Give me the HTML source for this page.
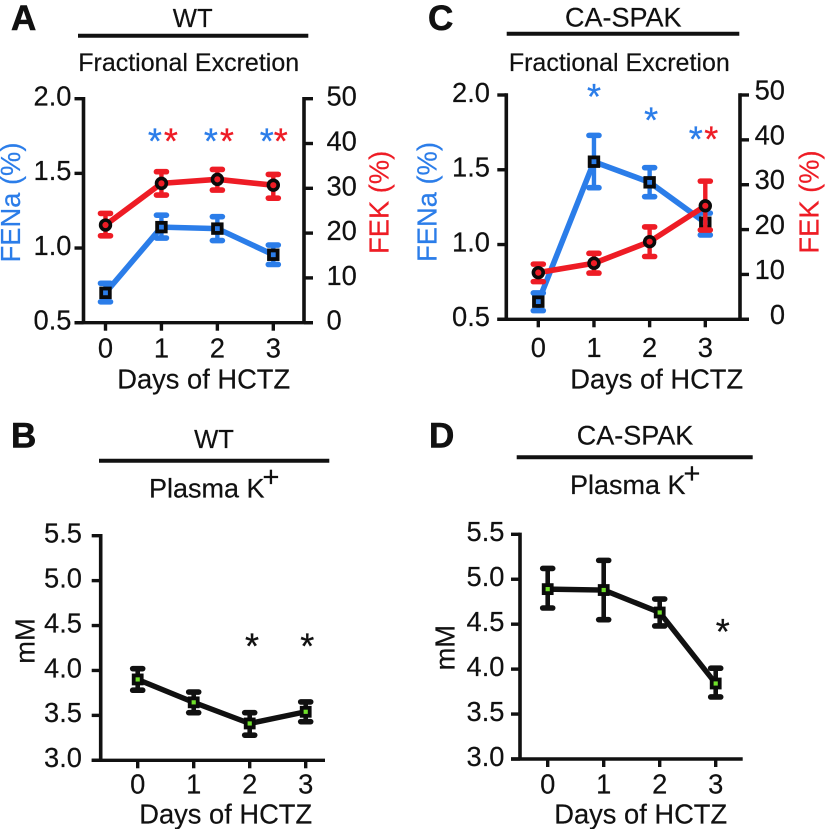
<!DOCTYPE html>
<html lang="en">
<head>
<meta charset="utf-8">
<title>Fractional Excretion and Plasma K+</title>
<style>
html,body{margin:0;padding:0;background:#fff;}
svg{display:block;}
text{font-family:"Liberation Sans",sans-serif;fill:#111;}
.letter{font-weight:bold;font-size:35px;stroke:#111;stroke-width:.6px;}
.title{font-size:25px;stroke:#111;stroke-width:.2px;}
.geno{font-size:27px;stroke:#111;stroke-width:.2px;}
.wt{font-size:25.6px;stroke:#111;stroke-width:.2px;}
.axt{font-size:27.3px;stroke:#111;stroke-width:.2px;}
.blue{fill:#2b7de9;stroke:#2b7de9;}
.red{fill:#ee1c25;stroke:#ee1c25;}
</style>
</head>
<body>
<svg id="fig" width="825" height="829" viewBox="0 0 825 829" xmlns="http://www.w3.org/2000/svg">
  <rect x="0" y="0" width="825" height="829" fill="#fff"/>

  <text class="letter" x="11" y="30">A</text>
  <text class="wt" x="192.7" y="27" text-anchor="middle">WT</text>
  <line x1="78" x2="308.3" y1="35.7" y2="35.7" stroke="#111" stroke-width="4"/>
  <text class="title" x="188.7" y="71" text-anchor="middle">Fractional Excretion</text>
  <text class="axt" x="203.7" y="388.3" text-anchor="middle">Days of HCTZ</text>
  <text class="axt blue" transform="translate(20,202.5) rotate(-90)" text-anchor="middle">FENa (%)</text>
  <text class="axt red" transform="translate(388.3,202.3) rotate(-90)" text-anchor="middle">FEK (%)</text>

  <text class="letter" x="428" y="30">C</text>
  <text class="geno" x="623.3" y="26.7" text-anchor="middle">CA-SPAK</text>
  <line x1="506.7" x2="739.3" y1="33.7" y2="33.7" stroke="#111" stroke-width="4"/>
  <text class="title" x="619.3" y="71" text-anchor="middle">Fractional Excretion</text>
  <text class="axt" x="656.7" y="388.3" text-anchor="middle">Days of HCTZ</text>
  <text class="axt blue" transform="translate(436.7,202) rotate(-90)" text-anchor="middle">FENa (%)</text>
  <text class="axt red" transform="translate(818.3,202) rotate(-90)" text-anchor="middle">FEK (%)</text>

  <text class="letter" x="11" y="447.7">B</text>
  <text class="wt" x="214" y="448" text-anchor="middle">WT</text>
  <line x1="99" x2="329.3" y1="460.7" y2="460.7" stroke="#111" stroke-width="4"/>
  <text class="geno" x="149" y="497.7">Plasma K<tspan dx="-2" dy="-11" font-size="29">+</tspan></text>
  <text class="axt" x="225.7" y="823.3" text-anchor="middle">Days of HCTZ</text>
  <text class="axt" transform="translate(34.3,641) rotate(-90)" text-anchor="middle">mM</text>

  <text class="letter" x="429" y="447.7">D</text>
  <text class="geno" x="635" y="444.3" text-anchor="middle">CA-SPAK</text>
  <line x1="516.7" x2="752.7" y1="457.3" y2="457.3" stroke="#111" stroke-width="4"/>
  <text class="geno" x="570" y="494">Plasma K<tspan dx="-2" dy="-11" font-size="29">+</tspan></text>
  <text class="axt" x="640.7" y="823.3" text-anchor="middle">Days of HCTZ</text>
  <text class="axt" transform="translate(454.3,647.7) rotate(-90)" text-anchor="middle">mM</text>

  <g id="charts"></g>
</svg>
<script>
var days = [0, 1, 2, 3];
var dayLabels = ["0", "1", "2", "3"];
var fenaTicks = [0.5, 1.0, 1.5, 2.0];
var fenaTickLabels = ["0.5", "1.0", "1.5", "2.0"];
var fekTicks = [0, 10, 20, 30, 40, 50];
var fekTickLabels = ["0", "10", "20", "30", "40", "50"];
var plasmaTicks = [3.0, 3.5, 4.0, 4.5, 5.0, 5.5];
var plasmaTickLabels = ["3.0", "3.5", "4.0", "4.5", "5.0", "5.5"];

var aFena = [0.70, 1.14, 1.13, 0.955];
var aFenaHi = [0.764, 1.22, 1.21, 1.02];
var aFenaLo = [0.64, 1.067, 1.05, 0.89];
var aFek = [21.8, 31.1, 32.0, 30.7];
var aFekHi = [24.4, 33.7, 34.2, 33.1];
var aFekLo = [19.4, 28.5, 29.6, 27.8];
var aFenaStars = [null, 1.746, 1.746, 1.746];
var aFekStars = [null, 1.746, 1.746, 1.746];

var cFena = [0.618, 1.554, 1.416, 1.146];
var cFenaHi = [0.676, 1.73, 1.514, 1.21];
var cFenaLo = [0.558, 1.38, 1.32, 1.064];
var cFek = [10.4, 12.5, 17.3, 25.3];
var cFekHi = [12.3, 14.7, 20.6, 30.8];
var cFekLo = [8.4, 10.3, 14.0, 19.9];
var cFenaStars = [null, 2.02, 1.862, 1.735];
var cFekStars = [null, null, null, 1.735];

var bPlasma = [3.90, 3.645, 3.41, 3.54];
var bPlasmaHi = [4.02, 3.76, 3.53, 3.65];
var bPlasmaLo = [3.78, 3.53, 3.28, 3.43];
var bStars = [null, null, 4.32, 4.32];

var dPlasma = [4.89, 4.88, 4.63, 3.84];
var dPlasmaHi = [5.12, 5.21, 4.78, 4.01];
var dPlasmaLo = [4.68, 4.55, 4.48, 3.69];
var dStars = [null, null, null, 4.47];

var BLUE = "#2b7de9", RED = "#ee1c25", INK = "#111", GREEN = "#6fe02a";
var TICK_FONT = 27.3, TEXT_STROKE = "stroke:#111;stroke-width:.2px";
var root = document.getElementById("charts");

function add(tag, name, attrs, text) {
  var node = document.createElementNS("http://www.w3.org/2000/svg", tag);
  
  
  for (var k in attrs) { node.setAttribute(k, attrs[k]); }
  if (text !== undefined) { node.textContent = text; }
  root.appendChild(node);
  return node;
}
function linear(d0, d1, r0, r1) {
  return function (v) { return r0 + (v - d0) / (d1 - d0) * (r1 - r0); };
}
function axisLine(name, x1, y1, x2, y2) {
  add("line", name, {x1: x1, y1: y1 - 1.7, x2: x2, y2: y2, stroke: INK, "stroke-width": 3.6});
}
function xAxis(p, name) {
  add("line", name + "-x-axis", {x1: p.left - 9, y1: p.bottom, x2: p.xEnd, y2: p.bottom, stroke: INK, "stroke-width": 3.4});
  days.forEach(function (d, i) {
    add("line", name + "-x-tick-" + d, {x1: p.x(d), y1: p.bottom, x2: p.x(d), y2: p.bottom + 8, stroke: INK, "stroke-width": 3.4});
    add("text", name + "-x-tick-label-" + d, {x: p.x(d), y: p.xLabelY, "text-anchor": "middle", "font-size": TICK_FONT, style: TEXT_STROKE}, dayLabels[i]);
  });
}
function leftAxis(p, name, ticks, labels, scale) {
  axisLine(name + "-left-axis", p.left, p.top, p.left, p.bottom);
  ticks.forEach(function (t, i) {
    add("line", name + "-left-tick-" + labels[i], {x1: p.left - 9, y1: scale(t), x2: p.left, y2: scale(t), stroke: INK, "stroke-width": 3.4});
    add("text", name + "-left-tick-label-" + labels[i], {x: p.lLabelX, y: scale(t) + 6.8, "text-anchor": "end", "font-size": TICK_FONT, style: TEXT_STROKE}, labels[i]);
  });
}
function rightAxis(p, name, ticks, labels, scale) {
  axisLine(name + "-right-axis", p.right, p.top, p.right, p.bottom);
  ticks.forEach(function (t, i) {
    add("line", name + "-right-tick-" + labels[i], {x1: p.right, y1: scale(t), x2: p.right + 9, y2: scale(t), stroke: INK, "stroke-width": 3.4});
    add("text", name + "-right-tick-label-" + labels[i], {x: p.rLabelX, y: scale(t) + p.rLabelDy, "text-anchor": p.rAnchor, "font-size": TICK_FONT, style: TEXT_STROKE}, labels[i]);
  });
}
function whiskers(p, name, hi, lo, scale, color, capW, capH, stemW) {
  days.forEach(function (d, i) {
    var cx = p.x(d);
    add("line", name + "-error-stem-" + d, {x1: cx, y1: scale(hi[i]), x2: cx, y2: scale(lo[i]), stroke: color, "stroke-width": stemW});
    add("line", name + "-error-cap-high-" + d, {x1: cx - capW, y1: scale(hi[i]), x2: cx + capW, y2: scale(hi[i]), stroke: color, "stroke-width": capH, "stroke-linecap": "round"});
    add("line", name + "-error-cap-low-" + d, {x1: cx - capW, y1: scale(lo[i]), x2: cx + capW, y2: scale(lo[i]), stroke: color, "stroke-width": capH, "stroke-linecap": "round"});
  });
}
function polyline(p, name, vals, scale, color, w) {
  var pts = days.map(function (d, i) { return p.x(d) + "," + scale(vals[i]); }).join(" ");
  add("polyline", name + "-line", {points: pts, fill: "none", stroke: color, "stroke-width": w, "stroke-linejoin": "round"});
}
function squares(p, name, vals, scale, fill, size, sw) {
  days.forEach(function (d, i) {
    add("rect", name + "-marker-" + d, {x: p.x(d) - size / 2, y: scale(vals[i]) - size / 2, width: size, height: size, fill: fill, stroke: "#0a0a0a", "stroke-width": sw});
  });
}
function circles(p, name, vals, scale, fill) {
  days.forEach(function (d, i) {
    add("circle", name + "-marker-" + d, {cx: p.x(d), cy: scale(vals[i]), r: 4.9, fill: fill, stroke: "#0a0a0a", "stroke-width": 3.6});
  });
}
function stars(p, name, vals, scale, color, offset) {
  days.forEach(function (d, i) {
    if (vals[i] === null) { return; }
    add("text", name + "-significance-star-" + d, {x: p.x(d) + offset[i], y: scale(vals[i]) + 17, "text-anchor": "middle", "font-size": 36, style: "fill:" + color + ";stroke:" + color + ";stroke-width:.3px"}, "*");
  });
}

/* Panel A */
var pA = {left: 83.5, right: 304, top: 98.7, bottom: 322.7, xEnd: 313, xLabelY: 357.3, lLabelX: 71.5, rLabelX: 326.5, rLabelDy: 7, rAnchor: "start", x: linear(0, 3, 105.5, 273.3)};
var aL = linear(0.5, 2.0, pA.bottom, pA.top), aR = linear(0, 50, pA.bottom, pA.top);
xAxis(pA, "panel-a");
leftAxis(pA, "panel-a", fenaTicks, fenaTickLabels, aL);
rightAxis(pA, "panel-a", fekTicks, fekTickLabels, aR);
whiskers(pA, "panel-a-fena", aFenaHi, aFenaLo, aL, BLUE, 5, 5.6, 4.4);
polyline(pA, "panel-a-fena", aFena, aL, BLUE, 5.6);
squares(pA, "panel-a-fena", aFena, aL, BLUE, 8.6, 3.8);
whiskers(pA, "panel-a-fek", aFekHi, aFekLo, aR, RED, 5, 5.6, 4.4);
polyline(pA, "panel-a-fek", aFek, aR, RED, 5.6);
circles(pA, "panel-a-fek", aFek, aR, RED);
stars(pA, "panel-a-fena", aFenaStars, aL, BLUE, [0, -6.5, -6.5, -6.5]);
stars(pA, "panel-a-fek", aFekStars, aL, RED, [0, 9.5, 9.5, 7.5]);

/* Panel C */
var pC = {left: 506.3, right: 740, top: 95, bottom: 319.3, xEnd: 749, xLabelY: 357, lLabelX: 490, rLabelX: 785, rLabelDy: 4.5, rAnchor: "end", x: linear(0, 3, 538.3, 705.3)};
var cL = linear(0.5, 2.0, pC.bottom, pC.top), cR = linear(0, 50, pC.bottom, pC.top);
xAxis(pC, "panel-c");
leftAxis(pC, "panel-c", fenaTicks, fenaTickLabels, cL);
rightAxis(pC, "panel-c", fekTicks, fekTickLabels, cR);
whiskers(pC, "panel-c-fena", cFenaHi, cFenaLo, cL, BLUE, 5, 5.6, 4.4);
polyline(pC, "panel-c-fena", cFena, cL, BLUE, 5.6);
squares(pC, "panel-c-fena", cFena, cL, BLUE, 8.6, 3.8);
whiskers(pC, "panel-c-fek", cFekHi, cFekLo, cR, RED, 5, 5.6, 4.4);
polyline(pC, "panel-c-fek", cFek, cR, RED, 5.6);
circles(pC, "panel-c-fek", cFek, cR, RED);
stars(pC, "panel-c-fena", cFenaStars, cL, BLUE, [0, 0, 1.5, -9.5]);
stars(pC, "panel-c-fek", cFekStars, cL, RED, [0, 0, 0, 6]);

/* Panel B */
var pB = {left: 100.7, right: 325, top: 535.7, bottom: 760.3, xEnd: 325, xLabelY: 793.3, lLabelX: 82, x: linear(0, 3, 137.7, 305.7)};
var bY = linear(3.0, 5.5, pB.bottom, pB.top);
xAxis(pB, "panel-b");
leftAxis(pB, "panel-b", plasmaTicks, plasmaTickLabels, bY);
whiskers(pB, "panel-b-plasma-k", bPlasmaHi, bPlasmaLo, bY, INK, 5, 5.6, 4.6);
polyline(pB, "panel-b-plasma-k", bPlasma, bY, INK, 5.4);
squares(pB, "panel-b-plasma-k", bPlasma, bY, GREEN, 8, 3.8);
stars(pB, "panel-b", bStars, bY, INK, [0, 0, 2.3, 1.6]);

/* Panel D */
var pD = {left: 520, right: 742.7, top: 534.3, bottom: 759, xEnd: 742.7, xLabelY: 793.3, lLabelX: 504.5, x: linear(0, 3, 547.7, 715.7)};
var dY = linear(3.0, 5.5, pD.bottom, pD.top);
xAxis(pD, "panel-d");
leftAxis(pD, "panel-d", plasmaTicks, plasmaTickLabels, dY);
whiskers(pD, "panel-d-plasma-k", dPlasmaHi, dPlasmaLo, dY, INK, 5, 5.6, 4.6);
polyline(pD, "panel-d-plasma-k", dPlasma, dY, INK, 5.4);
squares(pD, "panel-d-plasma-k", dPlasma, dY, GREEN, 8, 3.8);
stars(pD, "panel-d", dStars, dY, INK, [0, 0, 0, 7]);
</script>
</body>
</html>
